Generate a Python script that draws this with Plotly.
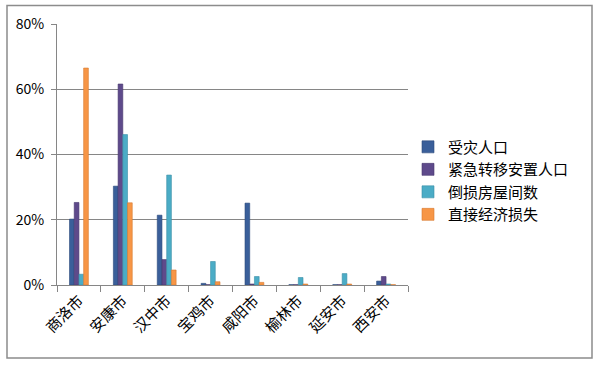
import plotly.graph_objects as go

categories = ["商洛市", "安康市", "汉中市", "宝鸡市", "咸阳市", "榆林市", "延安市", "西安市"]
series_names = ["受灾人口", "紧急转移安置人口", "倒损房屋间数", "直接经济损失"]
affected = [20.2, 30.3, 21.4, 0.5, 25.1, 0.1, 0.1, 1.2]
relocated = [25.3, 61.6, 7.8, 0.1, 0.3, 0.1, 0.1, 2.6]
houses = [3.3, 46.1, 33.7, 7.2, 2.6, 2.3, 3.5, 0.3]
economic = [66.5, 25.2, 4.6, 1.0, 0.8, 0.3, 0.3, 0.1]
colors = ["#3A5F9A", "#5E4A8B", "#4BACC6", "#F79646"]
line_colors = ["#2C4A7A", "#47376B", "#3A8EA6", "#D67A30"]

FONT = "Noto Sans CJK SC"
fig = go.Figure()
for name, vals, c, lc in zip(series_names, [affected, relocated, houses, economic], colors, line_colors):
    fig.add_trace(go.Bar(
        x=categories, y=[v / 100 for v in vals], name=name,
        marker=dict(color=c, line=dict(color=lc, width=0.6)),
    ))

fig.update_layout(
    width=600, height=365,
    margin=dict(l=57, r=192, t=24, b=80),
    paper_bgcolor="white", plot_bgcolor="white",
    barmode="group", bargap=0.57, bargroupgap=0,
    font=dict(family=FONT, size=14, color="#000000"),
    showlegend=True,
    legend=dict(
        x=1.0, xanchor="left", y=0.40, yanchor="middle",
        font=dict(family=FONT, size=15, color="#000000"),
        bgcolor="rgba(0,0,0,0)", tracegroupgap=0,
        itemwidth=30,
    ),
    xaxis=dict(
        type="category", tickangle=-45, tickson="boundaries",
        ticks="outside", ticklen=6, tickcolor="#868686",
        showline=True, linecolor="#868686", linewidth=1,
        showgrid=False, tickfont=dict(family=FONT, size=15),
    ),
    yaxis=dict(
        range=[0, 0.8], dtick=0.2, tickformat=".0%",
        ticks="outside", ticklen=5, tickcolor="#868686",
        showline=True, linecolor="#868686", linewidth=1,
        showgrid=True, gridcolor="#868686", gridwidth=1,
        zeroline=False, tickfont=dict(family=FONT, size=14),
        ticklabelstandoff=4,
    ),
    shapes=[dict(
        type="rect", xref="paper", yref="paper",
        x0=(7 - 57) / 351, x1=(592 - 57) / 351,
        y0=(285.5 - 358.5) / 261, y1=(285.5 - 6) / 261,
        line=dict(color="#8C8C8C", width=1.5), fillcolor="rgba(0,0,0,0)",
        layer="below",
    )],
)

fig.write_html(
    "out.html",
    config={"displayModeBar": False},
    post_script="document.body.style.margin='0';document.body.style.padding='0';",
)
